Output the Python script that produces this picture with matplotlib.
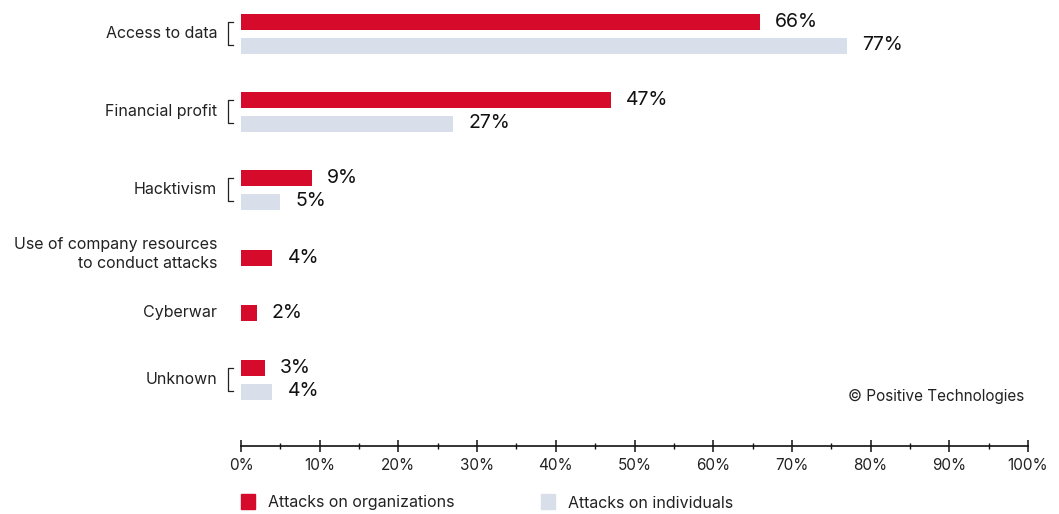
import matplotlib.pyplot as plt
from matplotlib.patches import Rectangle
from matplotlib.ticker import MultipleLocator, FuncFormatter

plt.rcParams['font.family'] = ['Inter', 'DejaVu Sans']

categories = ["Access to data", "Financial profit", "Hacktivism",
              "Use of company resources\nto conduct attacks", "Cyberwar", "Unknown"]
orgs = [66, 47, 9, 4, 2, 3]
individuals = [77, 27, 5, None, None, 4]

RED = "#D60A2B"
GREY = "#D8DFEA"

# vertical layout (axis units are pixels from the top)
row_y = [22, 100, 178, 258, 313, 368]
pair_gap = 23.5
bar_h = 16

W, H = 1059, 514
fig = plt.figure(figsize=(W / 100, H / 100), dpi=100)
ax = fig.add_axes([241 / W, 68 / H, 787 / W, 446 / H])
ax.set_xlim(0, 100)
ax.set_ylim(446, 0)

for cat, y, o, ind in zip(categories, row_y, orgs, individuals):
    ax.barh(y, o, height=bar_h, color=RED)
    ax.text(o + 1.9, y, f"{o}%", va="center", ha="left", fontsize=14, color="#111111")
    if ind is not None:
        y2 = y + pair_gap
        ax.barh(y2, ind, height=bar_h, color=GREY)
        ax.text(ind + 1.9, y2, f"{ind}%", va="center", ha="left", fontsize=14, color="#111111")
        label_y = y + pair_gap / 2
        # bracket tying the pair of bars together
        tr = ax.get_yaxis_transform()
        bx0, bx1 = -13 / 787, -8 / 787
        ax.plot([bx1, bx0, bx0, bx1], [label_y - 11.5, label_y - 11.5, label_y + 11.5, label_y + 11.5],
                transform=tr, color="#222222", lw=0.9, clip_on=False)
    else:
        label_y = y - 4 if "\n" in cat else y
    ax.text(-24 / 787, label_y, cat, transform=ax.get_yaxis_transform(),
            ha="right", va="center", fontsize=11.5, color="#222222", linespacing=1.25)

for side in ["top", "right", "left"]:
    ax.spines[side].set_visible(False)
ax.spines["bottom"].set_linewidth(1.2)
ax.spines["bottom"].set_color("#111111")
ax.set_yticks([])
ax.xaxis.set_major_locator(MultipleLocator(10))
ax.xaxis.set_minor_locator(MultipleLocator(5))
ax.xaxis.set_major_formatter(FuncFormatter(lambda v, p: f"{v:.0f}%"))
ax.tick_params(axis="x", which="major", direction="inout", length=9, width=1.1,
               labelsize=11, pad=4, color="#111111", labelcolor="#222222")
ax.tick_params(axis="x", which="minor", direction="inout", length=4, width=1.0, color="#111111")

fig.text(1024 / W, 1 - 396 / H, "\u00a9 Positive Technologies", ha="right", va="center",
         fontsize=11, color="#222222")

# legend
for x0, col, lab in [(241, RED, "Attacks on organizations"), (541, GREY, "Attacks on individuals")]:
    fig.patches.append(Rectangle((x0 / W, 1 - 509 / H), 14 / W, 15 / H,
                                 transform=fig.transFigure, color=col))
    fig.text((x0 + 27) / W, 1 - 503 / H, lab, ha="left", va="center", fontsize=11.5, color="#222222")

fig.savefig("out.png", dpi=100)
